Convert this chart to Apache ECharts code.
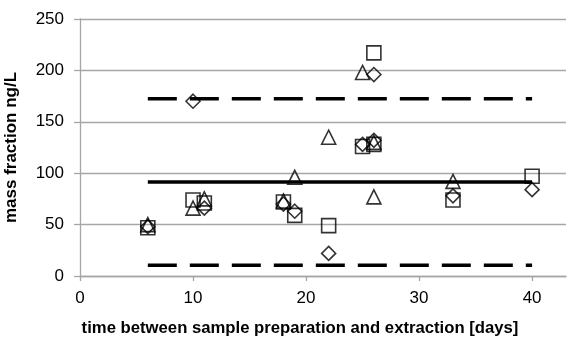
<!DOCTYPE html>
<html>
<head>
<meta charset="utf-8">
<script src="https://cdn.jsdelivr.net/npm/echarts@6/dist/echarts.min.js"></script>
<style>
  html, body { margin: 0; padding: 0; background: #fff; }
  #chart { width: 579px; height: 340px; }
</style>
</head>
<body>
<div id="chart"></div>
<script>
// Measured mass fractions vs. storage time, three replicate sets
const seriesDiamond = [[6, 48], [10, 170], [11, 66], [18, 70], [19, 63], [22, 22], [25, 128], [26, 196], [26, 132], [33, 78], [40, 84]];
const seriesSquare = [[6, 47], [10, 74], [11, 71], [18, 72], [19, 59], [22, 49], [25, 126], [26, 217], [26, 128], [33, 74], [40, 97]];
const seriesTriangle = [[6, 50], [10, 66], [11, 75], [18, 73], [19, 96], [22, 135], [25, 198], [26, 130], [26, 77], [33, 92]];

// Mean and upper/lower limits drawn across the sampled time range
const lineRange = [6, 40];
const meanValue = 91.5;
const upperLimit = 172.5;
const lowerLimit = 10.5;

const xTitle = 'time between sample preparation and extraction [days]';
const yTitle = 'mass fraction ng/L';

const gray = '#a6a6a6';
const font = 'Liberation Sans, Arial, sans-serif';

function hLine(v) { return lineRange.map(x => [x, v]); }

function markerSeries(data, symbol, size) {
  return {
    type: 'scatter',
    data: data,
    symbol: symbol,
    symbolSize: size,
    z: 5,
    itemStyle: { color: 'rgba(0,0,0,0)', borderColor: '#000', borderWidth: 1.6 }
  };
}

function limitSeries(v, dash) {
  return {
    type: 'line',
    data: hLine(v),
    showSymbol: false,
    symbol: 'none',
    z: 3,
    lineStyle: { color: '#000', width: 3.5, type: dash, cap: 'butt' }
  };
}

const chart = echarts.init(document.getElementById('chart'));
chart.setOption({
  animation: false,
  backgroundColor: '#fff',
  grid: { left: 80, right: 13, top: 19, bottom: 64, containLabel: false, outerBoundsMode: 'none' },
  xAxis: {
    type: 'value',
    min: 0, max: 43, interval: 10,
    axisLine: { show: true, lineStyle: { color: gray, width: 1.3 } },
    axisTick: { show: true, length: 5, lineStyle: { color: gray, width: 1.3 } },
    axisLabel: { color: '#000', fontSize: 17, fontFamily: font, margin: 14,
      showMaxLabel: false },
    splitLine: { show: false }
  },
  yAxis: {
    type: 'value',
    min: 0, max: 250, interval: 50,
    axisLine: { show: true, lineStyle: { color: gray, width: 1.3 } },
    axisTick: { show: true, length: 6, lineStyle: { color: gray, width: 1.3 } },
    axisLabel: { color: '#000', fontSize: 17, fontFamily: font, margin: 16 },
    splitLine: { show: true, lineStyle: { color: gray, width: 1.3 } },
    name: yTitle,
    nameLocation: 'middle',
    nameGap: 60,
    nameRotate: 90,
    nameTextStyle: { color: '#000', fontSize: 17, fontWeight: 'bold', fontFamily: font }
  },
  graphic: [{
    type: 'text',
    x: 300, y: 328,
    z: 10,
    style: {
      text: xTitle,
      textAlign: 'center',
      textVerticalAlign: 'middle',
      fill: '#000',
      fontSize: 16.7,
      fontWeight: 'bold',
      fontFamily: font
    }
  }],
  series: [
    limitSeries(meanValue, 'solid'),
    limitSeries(upperLimit, [29, 13]),
    limitSeries(lowerLimit, [29, 13]),
    markerSeries(seriesDiamond, 'diamond', 14),
    markerSeries(seriesSquare, 'rect', 14),
    markerSeries(seriesTriangle, 'triangle', 14)
  ]
});
</script>
</body>
</html>
